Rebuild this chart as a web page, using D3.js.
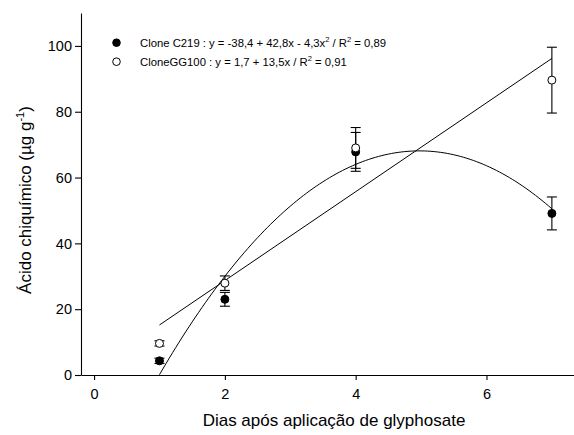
<!DOCTYPE html>
<html>
<head>
<meta charset="utf-8">
<script src="https://cdn.jsdelivr.net/npm/d3@7"></script>
<style>
  body { margin: 0; background: #fff; }
  text { font-family: "Liberation Sans", Arial, sans-serif; fill: #000; }
</style>
</head>
<body>
<script>
// Data
const days = [1, 2, 4, 7]
const c219 = [4.3, 23.0, 67.8, 49.1]
const c219Err = [0.8, 2.1, 5.9, 5.0]
const gg100 = [9.6, 27.9, 69.0, 89.6]
const gg100Err = [0.8, 2.2, 6.2, 10.0]

// Fitted models from the legend
const c219Coef = [-38.4, 42.8, -4.3]
const gg100Coef = [1.7, 13.5]
const fitRange = [1, 7]

const xTicks = [0, 2, 4, 6]
const yTicks = [0, 20, 40, 60, 80, 100]

const width = 574
const height = 435
const margin = { top: 13, left: 81, bottom: 60 }

const svg = d3.select("body")
  .append("svg")
  .attr("width", width)
  .attr("height", height)

const x = d3.scaleLinear()
  .domain([-0.2, 7.5])
  .range([margin.left, margin.left + 7.7 * 65.4])

const y = d3.scaleLinear()
  .domain([0, 110])
  .range([375, margin.top])

// Axes
const axisX = svg.append("g")
  .attr("transform", `translate(0, ${y(0)})`)
  .call(d3.axisBottom(x).tickValues(xTicks).tickSize(5).tickPadding(9).tickSizeOuter(0))
axisX.selectAll("text").style("font-size", "14.5px")

const axisY = svg.append("g")
  .attr("transform", `translate(${margin.left}, 0)`)
  .call(d3.axisLeft(y).tickValues(yTicks).tickSize(6).tickPadding(3).tickSizeOuter(0))
axisY.selectAll("text").style("font-size", "14.5px")

svg.selectAll(".domain, .tick line").attr("stroke", "#000").attr("stroke-width", 1.1)

// Axis labels
svg.append("text")
  .attr("x", 334)
  .attr("y", 426)
  .attr("text-anchor", "middle")
  .style("font-size", "17px")
  .text("Dias após aplicação de glyphosate")

const yLabel = svg.append("text")
  .attr("transform", `translate(31, ${(y(0) + y(110)) / 2 + 6}) rotate(-90)`)
  .attr("text-anchor", "middle")
  .style("font-size", "17px")
yLabel.append("tspan").text("Ácido chiquímico (µg g")
yLabel.append("tspan").attr("dy", -7).style("font-size", "11px").text("-1")
yLabel.append("tspan").attr("dy", 7).text(")")

// Fitted curves
const line = d3.line().x(d => x(d[0])).y(d => y(d[1]))
const quad = t => c219Coef[0] + c219Coef[1] * t + c219Coef[2] * t * t
const lin = t => gg100Coef[0] + gg100Coef[1] * t

svg.append("path")
  .datum(d3.range(fitRange[0], fitRange[1] + 0.001, 0.05).map(t => [t, quad(t)]))
  .attr("d", line)
  .attr("fill", "none")
  .attr("stroke", "#000")
  .attr("stroke-width", 1)

svg.append("path")
  .datum(fitRange.map(t => [t, lin(t)]))
  .attr("d", line)
  .attr("fill", "none")
  .attr("stroke", "#000")
  .attr("stroke-width", 1)

// Error bars + points
const series = [
  { values: c219, err: c219Err, fill: "#000" },
  { values: gg100, err: gg100Err, fill: "#fff" }
]

series.forEach(s => {
  const g = svg.append("g")
  const rows = days.map((d, i) => ({ d, v: s.values[i], e: s.err[i] }))

  g.selectAll("line.bar")
    .data(rows)
    .join("line")
    .attr("x1", r => x(r.d)).attr("x2", r => x(r.d))
    .attr("y1", r => y(r.v - r.e)).attr("y2", r => y(r.v + r.e))
    .attr("stroke", "#000")
    .attr("stroke-width", 1.1)

  ;["lo", "hi"].forEach(side => {
    g.selectAll("line.cap-" + side)
      .data(rows)
      .join("line")
      .attr("x1", r => x(r.d) - 5).attr("x2", r => x(r.d) + 5)
      .attr("y1", r => y(side === "lo" ? r.v - r.e : r.v + r.e))
      .attr("y2", r => y(side === "lo" ? r.v - r.e : r.v + r.e))
      .attr("stroke", "#000")
      .attr("stroke-width", 1.1)
  })
})

series.forEach(s => {
  svg.append("g")
    .selectAll("circle")
    .data(days.map((d, i) => ({ d, v: s.values[i] })))
    .join("circle")
    .attr("cx", r => x(r.d))
    .attr("cy", r => y(r.v))
    .attr("r", 4)
    .attr("fill", s.fill)
    .attr("stroke", "#000")
    .attr("stroke-width", 1)
})

// Legend
const legend = [
  { fill: "#000", parts: [["Clone C219 : y = -38,4 + 42,8x - 4,3x"], ["2", 1], [" / R"], ["2", 1], [" = 0,89"]] },
  { fill: "#fff", parts: [["CloneGG100 : y = 1,7 + 13,5x / R"], ["2", 1], [" = 0,91"]] }
]

legend.forEach((item, i) => {
  const cy = 42.7 + i * 19
  svg.append("circle")
    .attr("cx", 116.5)
    .attr("cy", cy)
    .attr("r", 3.8)
    .attr("fill", item.fill)
    .attr("stroke", "#000")
  const t = svg.append("text")
    .attr("x", 140)
    .attr("y", cy + 4.3)
    .style("font-size", "11.3px")
  item.parts.forEach(([str, sup], k) => {
    const prevSup = k > 0 && item.parts[k - 1][1]
    t.append("tspan")
      .attr("dy", sup ? -5 : (prevSup ? 5 : 0))
      .style("font-size", sup ? "7.5px" : "11.3px")
      .text(str)
  })
})
</script>
</body>
</html>
